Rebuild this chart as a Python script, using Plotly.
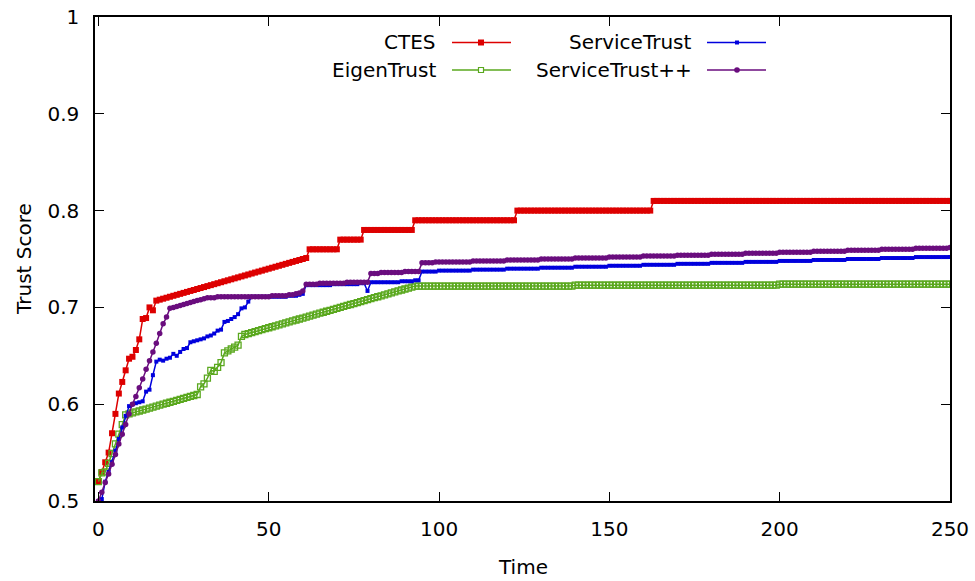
import plotly.graph_objects as go

time = list(range(0, 251))

ctes = [
    0.520, 0.530, 0.540, 0.550, 0.570, 0.590, 0.611, 0.623, 0.635, 0.647,
    0.649, 0.656, 0.667, 0.688, 0.689, 0.700, 0.697, 0.707, 0.708, 0.709,
    0.710, 0.711, 0.712, 0.713, 0.714, 0.715, 0.716, 0.717, 0.718, 0.719,
    0.720, 0.721, 0.722, 0.723, 0.724, 0.725, 0.726, 0.727, 0.728, 0.729,
    0.730, 0.731, 0.732, 0.733, 0.734, 0.735, 0.736, 0.737, 0.738, 0.739,
    0.740, 0.741, 0.742, 0.743, 0.744, 0.745, 0.746, 0.747, 0.748, 0.749,
    0.750, 0.751, 0.760, 0.760, 0.760, 0.760, 0.760, 0.760, 0.760, 0.760,
    0.760, 0.770, 0.770, 0.770, 0.770, 0.770, 0.770, 0.770, 0.780, 0.780,
    0.780, 0.780, 0.780, 0.780, 0.780, 0.780, 0.780, 0.780, 0.780, 0.780,
    0.780, 0.780, 0.780, 0.790, 0.790, 0.790, 0.790, 0.790, 0.790, 0.790,
    0.790, 0.790, 0.790, 0.790, 0.790, 0.790, 0.790, 0.790, 0.790, 0.790,
    0.790, 0.790, 0.790, 0.790, 0.790, 0.790, 0.790, 0.790, 0.790, 0.790,
    0.790, 0.790, 0.790, 0.800, 0.800, 0.800, 0.800, 0.800, 0.800, 0.800,
    0.800, 0.800, 0.800, 0.800, 0.800, 0.800, 0.800, 0.800, 0.800, 0.800,
    0.800, 0.800, 0.800, 0.800, 0.800, 0.800, 0.800, 0.800, 0.800, 0.800,
    0.800, 0.800, 0.800, 0.800, 0.800, 0.800, 0.800, 0.800, 0.800, 0.800,
    0.800, 0.800, 0.800, 0.810, 0.810, 0.810, 0.810, 0.810, 0.810, 0.810,
    0.810, 0.810, 0.810, 0.810, 0.810, 0.810, 0.810, 0.810, 0.810, 0.810,
    0.810, 0.810, 0.810, 0.810, 0.810, 0.810, 0.810, 0.810, 0.810, 0.810,
    0.810, 0.810, 0.810, 0.810, 0.810, 0.810, 0.810, 0.810, 0.810, 0.810,
    0.810, 0.810, 0.810, 0.810, 0.810, 0.810, 0.810, 0.810, 0.810, 0.810,
    0.810, 0.810, 0.810, 0.810, 0.810, 0.810, 0.810, 0.810, 0.810, 0.810,
    0.810, 0.810, 0.810, 0.810, 0.810, 0.810, 0.810, 0.810, 0.810, 0.810,
    0.810, 0.810, 0.810, 0.810, 0.810, 0.810, 0.810, 0.810, 0.810, 0.810,
    0.810, 0.810, 0.810, 0.810, 0.810, 0.810, 0.810, 0.810, 0.810, 0.810,
    0.810,
]

eigentrust = [
    0.520, 0.529, 0.530, 0.539, 0.549, 0.559, 0.569, 0.579, 0.589, 0.590,
    0.591, 0.592, 0.593, 0.594, 0.595, 0.596, 0.597, 0.598, 0.599, 0.600,
    0.601, 0.602, 0.603, 0.604, 0.605, 0.606, 0.607, 0.608, 0.609, 0.610,
    0.618, 0.621, 0.627, 0.635, 0.634, 0.638, 0.643, 0.653, 0.655, 0.657,
    0.659, 0.661, 0.670, 0.672, 0.673, 0.674, 0.675, 0.676, 0.677, 0.678,
    0.679, 0.680, 0.681, 0.682, 0.683, 0.684, 0.685, 0.686, 0.687, 0.688,
    0.689, 0.690, 0.691, 0.692, 0.693, 0.694, 0.695, 0.696, 0.697, 0.698,
    0.699, 0.700, 0.701, 0.702, 0.703, 0.704, 0.705, 0.706, 0.707, 0.708,
    0.709, 0.710, 0.711, 0.712, 0.713, 0.714, 0.715, 0.716, 0.717, 0.718,
    0.719, 0.720, 0.721, 0.722, 0.722, 0.722, 0.722, 0.722, 0.722, 0.722,
    0.722, 0.722, 0.722, 0.722, 0.722, 0.722, 0.722, 0.722, 0.722, 0.722,
    0.722, 0.722, 0.722, 0.722, 0.722, 0.722, 0.722, 0.722, 0.722, 0.722,
    0.722, 0.722, 0.722, 0.722, 0.722, 0.722, 0.722, 0.722, 0.722, 0.722,
    0.722, 0.722, 0.722, 0.722, 0.722, 0.722, 0.722, 0.722, 0.722, 0.722,
    0.723, 0.723, 0.723, 0.723, 0.723, 0.723, 0.723, 0.723, 0.723, 0.723,
    0.723, 0.723, 0.723, 0.723, 0.723, 0.723, 0.723, 0.723, 0.723, 0.723,
    0.723, 0.723, 0.723, 0.723, 0.723, 0.723, 0.723, 0.723, 0.723, 0.723,
    0.723, 0.723, 0.723, 0.723, 0.723, 0.723, 0.723, 0.723, 0.723, 0.723,
    0.723, 0.723, 0.723, 0.723, 0.723, 0.723, 0.723, 0.723, 0.723, 0.723,
    0.723, 0.723, 0.723, 0.723, 0.723, 0.723, 0.723, 0.723, 0.723, 0.723,
    0.724, 0.724, 0.724, 0.724, 0.724, 0.724, 0.724, 0.724, 0.724, 0.724,
    0.724, 0.724, 0.724, 0.724, 0.724, 0.724, 0.724, 0.724, 0.724, 0.724,
    0.724, 0.724, 0.724, 0.724, 0.724, 0.724, 0.724, 0.724, 0.724, 0.724,
    0.724, 0.724, 0.724, 0.724, 0.724, 0.724, 0.724, 0.724, 0.724, 0.724,
    0.724, 0.724, 0.724, 0.724, 0.724, 0.724, 0.724, 0.724, 0.724, 0.724,
    0.724,
]

servicetrust = [
    0.500, 0.502, 0.520, 0.530, 0.540, 0.552, 0.564, 0.576, 0.588, 0.598,
    0.600, 0.601, 0.602, 0.603, 0.613, 0.615, 0.630, 0.644, 0.646, 0.645,
    0.647, 0.648, 0.652, 0.650, 0.654, 0.657, 0.658, 0.664, 0.665, 0.666,
    0.667, 0.668, 0.670, 0.671, 0.673, 0.676, 0.677, 0.685, 0.686, 0.688,
    0.690, 0.693, 0.699, 0.700, 0.706, 0.711, 0.711, 0.711, 0.711, 0.711,
    0.711, 0.711, 0.711, 0.711, 0.711, 0.711, 0.712, 0.712, 0.712, 0.713,
    0.714, 0.723, 0.723, 0.723, 0.723, 0.723, 0.723, 0.723, 0.723, 0.724,
    0.724, 0.724, 0.724, 0.724, 0.724, 0.724, 0.724, 0.725, 0.725, 0.717,
    0.726, 0.726, 0.726, 0.726, 0.726, 0.726, 0.726, 0.726, 0.726, 0.727,
    0.727, 0.727, 0.727, 0.728, 0.728, 0.737, 0.737, 0.737, 0.737, 0.737,
    0.738, 0.738, 0.738, 0.738, 0.738, 0.738, 0.738, 0.738, 0.738, 0.738,
    0.739, 0.739, 0.739, 0.739, 0.739, 0.739, 0.739, 0.739, 0.739, 0.739,
    0.740, 0.740, 0.740, 0.740, 0.740, 0.740, 0.740, 0.740, 0.740, 0.740,
    0.741, 0.741, 0.741, 0.741, 0.741, 0.741, 0.741, 0.741, 0.741, 0.741,
    0.742, 0.742, 0.742, 0.742, 0.742, 0.742, 0.742, 0.742, 0.742, 0.742,
    0.743, 0.743, 0.743, 0.743, 0.743, 0.743, 0.743, 0.743, 0.743, 0.743,
    0.744, 0.744, 0.744, 0.744, 0.744, 0.744, 0.744, 0.744, 0.744, 0.744,
    0.745, 0.745, 0.745, 0.745, 0.745, 0.745, 0.745, 0.745, 0.745, 0.745,
    0.746, 0.746, 0.746, 0.746, 0.746, 0.746, 0.746, 0.746, 0.746, 0.746,
    0.747, 0.747, 0.747, 0.747, 0.747, 0.747, 0.747, 0.747, 0.747, 0.747,
    0.748, 0.748, 0.748, 0.748, 0.748, 0.748, 0.748, 0.748, 0.748, 0.748,
    0.749, 0.749, 0.749, 0.749, 0.749, 0.749, 0.749, 0.749, 0.749, 0.749,
    0.750, 0.750, 0.750, 0.750, 0.750, 0.750, 0.750, 0.750, 0.750, 0.750,
    0.751, 0.751, 0.751, 0.751, 0.751, 0.751, 0.751, 0.751, 0.751, 0.751,
    0.752, 0.752, 0.752, 0.752, 0.752, 0.752, 0.752, 0.752, 0.752, 0.752,
    0.752,
]

servicetrust_pp = [
    0.500, 0.509, 0.519, 0.528, 0.538, 0.548, 0.559, 0.569, 0.579, 0.590,
    0.600, 0.608, 0.617, 0.626, 0.636, 0.645, 0.654, 0.663, 0.673, 0.683,
    0.690, 0.699, 0.700, 0.701, 0.702, 0.703, 0.704, 0.705, 0.706, 0.707,
    0.708, 0.709, 0.710, 0.710, 0.710, 0.711, 0.711, 0.711, 0.711, 0.711,
    0.711, 0.711, 0.711, 0.711, 0.711, 0.711, 0.711, 0.711, 0.711, 0.711,
    0.711, 0.712, 0.712, 0.712, 0.712, 0.712, 0.713, 0.713, 0.714, 0.715,
    0.717, 0.724, 0.724, 0.724, 0.724, 0.725, 0.725, 0.725, 0.725, 0.725,
    0.725, 0.725, 0.725, 0.726, 0.726, 0.726, 0.726, 0.726, 0.726, 0.726,
    0.735, 0.735, 0.735, 0.736, 0.736, 0.736, 0.736, 0.736, 0.736, 0.736,
    0.737, 0.737, 0.737, 0.737, 0.737, 0.746, 0.746, 0.746, 0.746, 0.747,
    0.747, 0.747, 0.747, 0.747, 0.747, 0.747, 0.747, 0.747, 0.747, 0.747,
    0.748, 0.748, 0.748, 0.748, 0.748, 0.748, 0.748, 0.748, 0.748, 0.748,
    0.749, 0.749, 0.749, 0.749, 0.749, 0.749, 0.749, 0.749, 0.749, 0.749,
    0.750, 0.750, 0.750, 0.750, 0.750, 0.750, 0.750, 0.750, 0.750, 0.750,
    0.751, 0.751, 0.751, 0.751, 0.751, 0.751, 0.751, 0.751, 0.751, 0.751,
    0.752, 0.752, 0.752, 0.752, 0.752, 0.752, 0.752, 0.752, 0.752, 0.752,
    0.753, 0.753, 0.753, 0.753, 0.753, 0.753, 0.753, 0.753, 0.753, 0.753,
    0.754, 0.754, 0.754, 0.754, 0.754, 0.754, 0.754, 0.754, 0.754, 0.754,
    0.755, 0.755, 0.755, 0.755, 0.755, 0.755, 0.755, 0.755, 0.755, 0.755,
    0.756, 0.756, 0.756, 0.756, 0.756, 0.756, 0.756, 0.756, 0.756, 0.756,
    0.757, 0.757, 0.757, 0.757, 0.757, 0.757, 0.757, 0.757, 0.757, 0.757,
    0.758, 0.758, 0.758, 0.758, 0.758, 0.758, 0.758, 0.758, 0.758, 0.758,
    0.759, 0.759, 0.759, 0.759, 0.759, 0.759, 0.759, 0.759, 0.759, 0.759,
    0.760, 0.760, 0.760, 0.760, 0.760, 0.760, 0.760, 0.760, 0.760, 0.760,
    0.761, 0.761, 0.761, 0.761, 0.761, 0.761, 0.761, 0.761, 0.761, 0.761,
    0.762,
]

series_names = ["CTES", "EigenTrust", "ServiceTrust", "ServiceTrust++"]
x_ticks = [0, 50, 100, 150, 200, 250]
y_ticks = [0.5, 0.6, 0.7, 0.8, 0.9, 1.0]
y_tick_labels = ["0.5", "0.6", "0.7", "0.8", "0.9", "1"]

FONT = "DejaVu Sans"
RED = "#dd0000"
GREEN = "#5aa81e"
BLUE = "#0000dd"
PURPLE = "#6a0d7e"

styles = [
    dict(color=RED, symbol="square", size=6, line=dict(width=0)),
    dict(color=GREEN, symbol="square-open", size=6, line=dict(width=1.3, color=GREEN)),
    dict(color=BLUE, symbol="square", size=4, line=dict(width=0)),
    dict(color=PURPLE, symbol="circle", size=5.5, line=dict(width=0)),
]
colors = [RED, GREEN, BLUE, PURPLE]
data = [ctes, eigentrust, servicetrust, servicetrust_pp]

fig = go.Figure()
for name, ys, st, col in zip(series_names, data, styles, colors):
    fig.add_trace(go.Scatter(
        x=time, y=ys, name=name, mode="lines+markers",
        line=dict(color=col, width=1.5), marker=st, showlegend=False,
    ))

# plot area in pixels
L, R, T, B = 95, 950, 17, 501
W, H = R - L, B - T


def px(xp):
    return (xp - L) / W


def py(yp):
    return (B - yp) / H


annotations = []
shapes = []
legend_items = [
    ("CTES", 438, 42.5, 452, 511, 481, 0, RED),
    ("EigenTrust", 438, 70, 452, 511, 481, 1, GREEN),
    ("ServiceTrust", 694, 42.5, 707, 766, 737, 2, BLUE),
    ("ServiceTrust++", 694, 70, 707, 766, 737, 3, PURPLE),
]
for text, tx, ty, lx0, lx1, mx, idx, col in legend_items:
    annotations.append(dict(
        text=text, x=px(tx), y=py(ty), xref="paper", yref="paper",
        xanchor="right", yanchor="middle", showarrow=False,
        font=dict(family=FONT, size=20, color="black"),
    ))
    shapes.append(dict(
        type="line", xref="paper", yref="paper",
        x0=px(lx0), x1=px(lx1), y0=py(ty), y1=py(ty),
        line=dict(color=col, width=1.5),
    ))
    if idx == 0:
        shapes.append(dict(type="rect", xref="paper", yref="paper",
                           xsizemode="pixel", ysizemode="pixel",
                           xanchor=px(mx), yanchor=py(ty),
                           x0=-3, x1=3, y0=-3, y1=3,
                           fillcolor=col, line=dict(width=0)))
    elif idx == 1:
        shapes.append(dict(type="rect", xref="paper", yref="paper",
                           xsizemode="pixel", ysizemode="pixel",
                           xanchor=px(mx), yanchor=py(ty),
                           x0=-2.5, x1=2.5, y0=-2.5, y1=2.5,
                           fillcolor="white", line=dict(width=1.2, color=col)))
    elif idx == 2:
        shapes.append(dict(type="rect", xref="paper", yref="paper",
                           xsizemode="pixel", ysizemode="pixel",
                           xanchor=px(mx), yanchor=py(ty),
                           x0=-2, x1=2, y0=-2, y1=2,
                           fillcolor=col, line=dict(width=0)))
    else:
        shapes.append(dict(type="circle", xref="paper", yref="paper",
                           xsizemode="pixel", ysizemode="pixel",
                           xanchor=px(mx), yanchor=py(ty),
                           x0=-2.8, x1=2.8, y0=-2.8, y1=2.8,
                           fillcolor=col, line=dict(width=0)))

annotations.append(dict(
    text="Time", x=px(523), y=py(567), xref="paper", yref="paper",
    xanchor="center", yanchor="middle", showarrow=False,
    font=dict(family=FONT, size=20, color="black"),
))
annotations.append(dict(
    text="Trust Score", x=px(24), y=py(259), xref="paper", yref="paper",
    xanchor="center", yanchor="middle", showarrow=False, textangle=-90,
    font=dict(family=FONT, size=20, color="black"),
))

axis_common = dict(
    showgrid=False, zeroline=False, showline=True, linecolor="black",
    linewidth=1.5, mirror="ticks", ticks="inside", ticklen=9,
    tickwidth=1.2, tickcolor="black",
    tickfont=dict(family=FONT, size=20, color="black"),
)

fig.update_layout(
    width=975, height=581,
    margin=dict(l=L, r=975 - R, t=T, b=581 - B, autoexpand=False),
    paper_bgcolor="white", plot_bgcolor="white",
    xaxis=dict(range=[-1, 250], tickvals=x_ticks, ticklabelstandoff=9, **axis_common),
    yaxis=dict(range=[0.5, 1.0], tickvals=y_ticks, ticktext=y_tick_labels,
               ticklabelstandoff=10, **axis_common),
    annotations=annotations,
    shapes=shapes,
    font=dict(family=FONT),
)

fig.write_html(
    "out.html",
    config={"displayModeBar": False},
    post_script="document.body.style.margin='0';document.body.style.overflow='hidden';",
)
